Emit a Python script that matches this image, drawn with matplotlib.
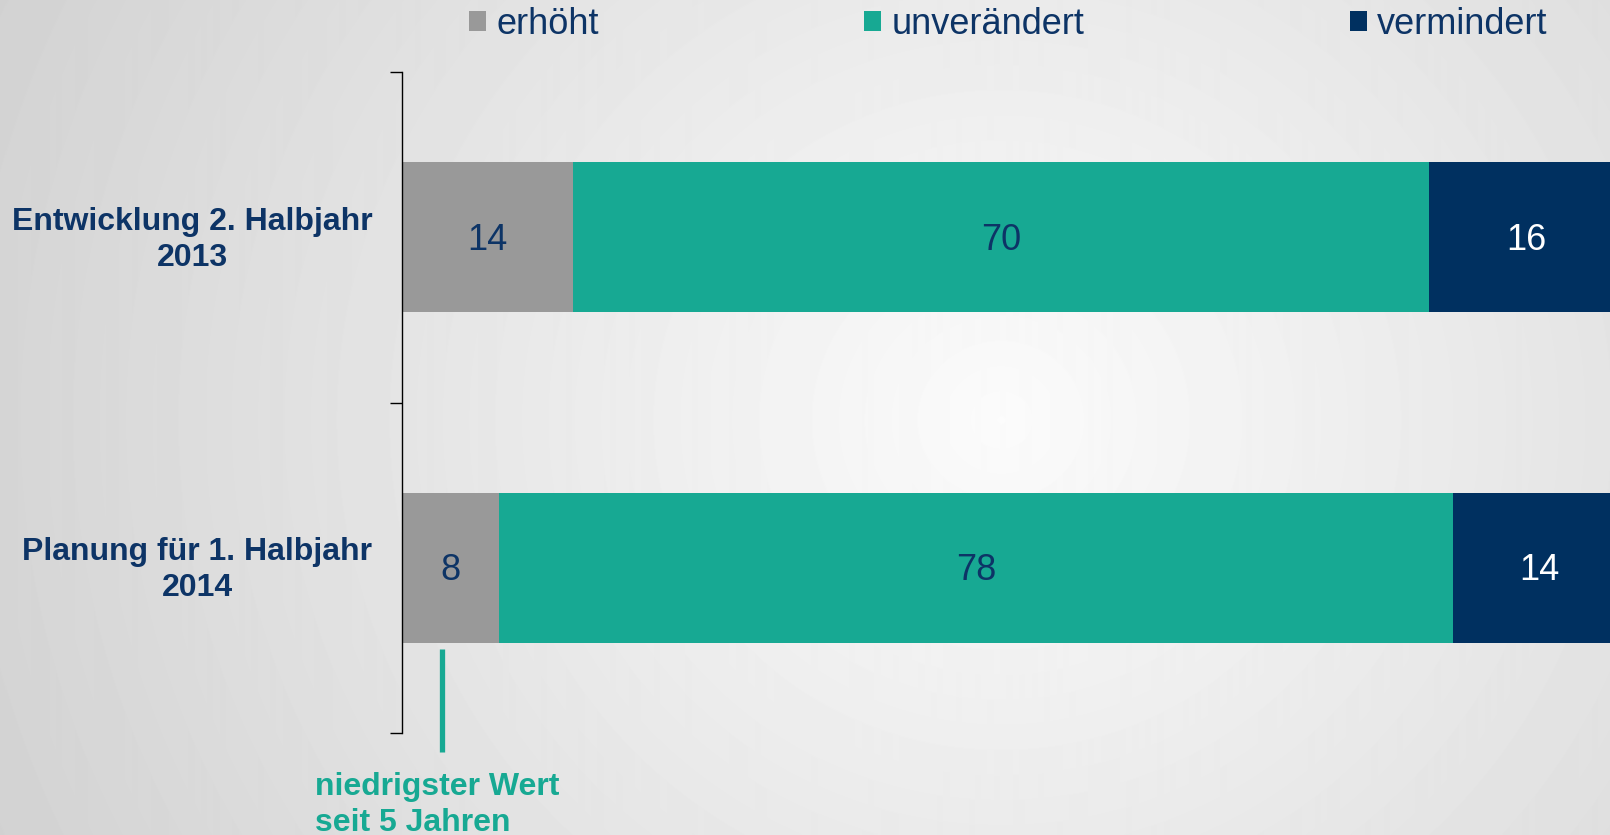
import numpy as np
import matplotlib
matplotlib.use("Agg")
import matplotlib.pyplot as plt
from matplotlib.patches import Patch

plt.rcParams['font.family'] = ['Liberation Sans', 'DejaVu Sans']

# data
categories = ["Entwicklung 2. Halbjahr\n2013", "Planung für 1. Halbjahr\n2014"]
series = ["erhöht", "unverändert", "vermindert"]
erhoeht = [14, 8]
unveraendert = [70, 78]
vermindert = [16, 14]
colors = ["#999999", "#17a993", "#003060"]
label_colors = ["#0d3466", "#0d3466", "white"]
navy_text = "#0d3466"
teal = "#17a993"

fig = plt.figure(figsize=(16.1, 8.35), dpi=100)

# radial grey background, lightest right of centre
bg = fig.add_axes([0, 0, 1, 1], zorder=-10)
yy, xx = np.mgrid[0:835, 0:1610]
dist = np.sqrt(((xx - 1000) / 1.0) ** 2 + ((yy - 420) / 0.95) ** 2)
shade = np.clip(0.985 - dist * 0.000148, 0.80, 1.0)
bg.imshow(shade, cmap="gray", vmin=0, vmax=1, aspect="auto",
          extent=[0, 1, 0, 1], origin="upper")
bg.axis("off")

ax = fig.add_axes([401.5 / 1610, 102 / 835, 1223 / 1610, 661 / 835])
ax.patch.set_alpha(0)

ypos = np.arange(len(categories)) + 0.5
bar_h = 0.454
left = np.zeros(len(categories))
for vals, col, tcol, name in zip([erhoeht, unveraendert, vermindert], colors, label_colors, series):
    bars = ax.barh(ypos, vals, left=left, height=bar_h, color=col, label=name, zorder=2)
    txts = ax.bar_label(bars, labels=[str(v) for v in vals], label_type="center",
                        color=tcol, fontsize=26)
    for t in txts:
        t.xyann = (0, -2)  # nudge a touch lower, as in the original
    left = left + np.array(vals)

ax.set_xlim(0, 100)
ax.set_ylim(2, 0)
ax.set_xticks([])
ax.set_yticks([0, 1, 2])
ax.set_yticklabels([])
# category labels sit a few pixels above bar centre
ax.set_yticks(ypos - 0.012, minor=True)
ax.set_yticklabels(categories, minor=True, fontsize=23, fontweight="bold",
                   color=navy_text, linespacing=1.25)
for lab in ax.get_yticklabels(minor=True):
    lab.set_multialignment("center")
ax.tick_params(axis="y", which="major", length=9, width=1, color="black", direction="out")
ax.tick_params(axis="y", which="minor", length=0, pad=21)
for s in ["top", "right", "bottom"]:
    ax.spines[s].set_visible(False)
ax.spines["left"].set_color("black")
ax.spines["left"].set_linewidth(1)

# legend across the top
handles = [Patch(facecolor=c, edgecolor="none") for c in colors]
fig.legend(handles, series, loc="center left", bbox_to_anchor=(469 / 1610, 1 - 24 / 835),
           ncol=3, frameon=False, fontsize=26, handlelength=0.47, handleheight=0.47,
           handletextpad=0.28, columnspacing=7.36, borderpad=0, borderaxespad=0,
           labelcolor=navy_text)

# annotation for lowest value
ax.plot([3.3, 3.3], [1.745, 2.058], color=teal, linewidth=3.8, clip_on=False,
        solid_capstyle="butt")
fig.text(315 / 1610, 1 - 772 / 835, "niedrigster Wert\nseit 5 Jahren", ha="left", va="top",
         fontsize=23, fontweight="bold", color=teal, linespacing=1.25)

fig.savefig("out.png", dpi=100)
